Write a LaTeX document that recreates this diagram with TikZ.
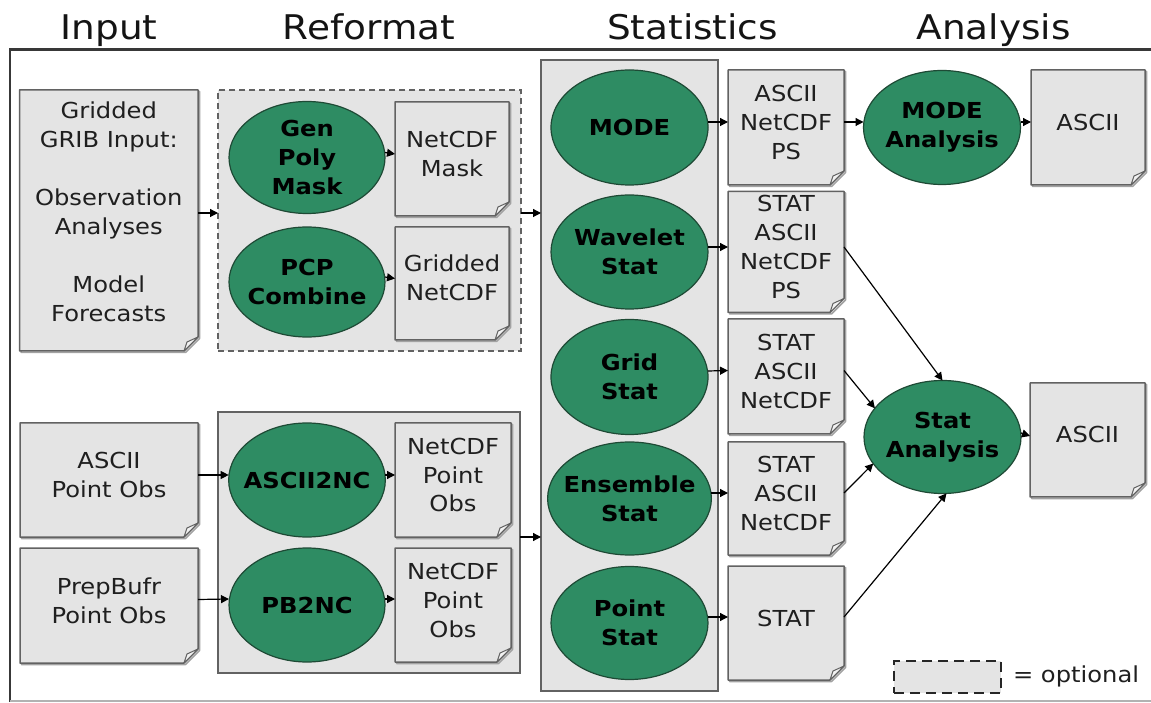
\documentclass[tikz,border=0pt]{standalone}
\usepackage{fontspec}
\setmainfont{DejaVu Sans}[FakeStretch=1.1]
\usetikzlibrary{arrows.meta,calc,shapes.geometric}
\pgfdeclarelayer{bg}
\pgfdeclarelayer{docs}
\pgfsetlayers{bg,docs,main}
\definecolor{boxfill}{HTML}{E4E4E4}
\definecolor{lineg}{HTML}{626262}
\definecolor{shad}{HTML}{A2A2A2}
\definecolor{procgreen}{RGB}{46,140,99}
\definecolor{procline}{HTML}{1E4A35}
\definecolor{foldfill}{HTML}{F2F2F2}
\newcommand\doctext[1]{\rule{0pt}{20pt}#1\rule[-14pt]{0pt}{0pt}}
\newcommand\docoutline[3]{([shift={(#2,#3)}]#1.north west) -- ([shift={(#2,#3)}]#1.north east) -- ([shift={(#2,#3+14)}]#1.south east) -- ([shift={(#2-14,#3)}]#1.south east) -- ([shift={(#2,#3)}]#1.south west) -- cycle}
\begin{document}
\begin{tikzpicture}[x=1pt,y=1pt,
  every node/.style={inner sep=0pt, outer sep=0pt},
  txt/.style={font=\fontsize{22}{29}\selectfont, align=center, text=black!88},
  doc/.style args={#1/#2}{txt, rectangle, minimum width=#1pt, minimum height=#2pt},
  proc/.style args={#1/#2}{ellipse, draw=procline, line width=1.2pt, fill=procgreen, inner sep=-8pt, minimum width=#1pt, minimum height=#2pt, font=\fontsize{22}{29}\selectfont\bfseries, align=center, text=black},
  cont/.style args={#1/#2}{rectangle, draw=lineg, line width=1.5pt, fill=boxfill, minimum width=#1pt, minimum height=#2pt},
  arr/.style={-{Triangle[length=8pt,width=8pt]}, line width=1.2pt, black},
  hdr/.style={font=\fontsize{34}{40}\selectfont, anchor=base, text=black!92}
]
\useasboundingbox (0,0) rectangle (1151,702);
\begin{pgfonlayer}{bg}
\fill[white] (0,0) rectangle (1151,702);
\end{pgfonlayer}

% frame
\coordinate (ftl) at (10,652.5);
\coordinate (ftr) at (1151,652.5);
\coordinate (fbl) at (10,0);
\coordinate (fbl2) at (10,1);
\coordinate (fbr2) at (1151,1);
\draw[line width=2.2pt, black!78] (ftr) -- (ftl) -- (fbl);
\draw[line width=1.5pt, black!30] (fbl2) -- (fbr2);

% headers
\node[hdr] (hin) at (109,662.5) {Input};
\node[hdr] (href) at (369,662.5) {Reformat};
\node[hdr] (hsta) at (692.5,662.5) {Statistics};
\node[hdr] (hana) at (993.5,662.5) {Analysis};

% containers
\begin{pgfonlayer}{bg}
\node[cont=303/261, dash pattern=on 6pt off 4pt] (rdash) at (369.5,481.5) {};
\node[cont=302/261] (rsol) at (369,159.5) {};
\node[cont=177/631] (stats) at (629.5,326.5) {};
\end{pgfonlayer}

% documents
\node[doc=178.5/261] (gin) at (108.75,481.5) {\rule{0pt}{20pt}Gridded\\GRIB Input:\\[29pt]Observation\\Analyses\\[29pt]Model\\Forecasts\rule[-20pt]{0pt}{0pt}};
\node[doc=114/114] (mask) at (452,543) {\doctext{NetCDF\\Mask}};
\node[doc=114/113] (gnc) at (452,418.5) {\doctext{Gridded\\NetCDF}};
\node[doc=178/114] (aobs) at (109,222) {\doctext{ASCII\\Point Obs}};
\node[doc=178/115] (pobs) at (109,96.5) {\doctext{PrepBufr\\Point Obs}};
\node[doc=116/114] (anc) at (453,222) {\doctext{NetCDF\\Point\\Obs}};
\node[doc=116/114] (pnc) at (453,97) {\doctext{NetCDF\\Point\\Obs}};
\node[doc=116/115] (mout) at (786,574.5) {\doctext{ASCII\\NetCDF\\PS}};
\node[doc=116/114] (wout) at (786,450) {\doctext{STAT\\ASCII\\NetCDF\\PS}};
\node[doc=116/115] (gout) at (786,325.5) {\doctext{STAT\\ASCII\\NetCDF}};
\node[doc=116/113] (eout) at (786,203.5) {\doctext{STAT\\ASCII\\NetCDF}};
\node[doc=116/114] (pout) at (786,79) {\doctext{STAT}};
\node[doc=114/115] (mascii) at (1088,574.5) {\doctext{ASCII}};
\node[doc=115/114] (sascii) at (1087.5,262) {\doctext{ASCII}};

\begin{pgfonlayer}{docs}
\foreach \n in {gin,mask,gnc,aobs,pobs,anc,pnc,mout,wout,gout,eout,pout,mascii,sascii}{
  \draw[shad, line width=1.5pt, line join=round] \docoutline{\n}{1.5}{-1.5};
  \filldraw[fill=boxfill, draw=lineg, line width=1.5pt, line join=round] \docoutline{\n}{0}{0};
  \filldraw[fill=foldfill, draw=lineg, line width=1pt, line join=round] ([yshift=14pt]\n.south east) -- ([xshift=-14pt]\n.south east) -- ([shift={(-11,9)}]\n.south east) -- cycle;
}
\end{pgfonlayer}

% processes
\node[proc=156/112] (gpm) at (307,544.5) {Gen\\Poly\\Mask};
\node[proc=156/110] (pcp) at (307,420) {PCP\\Combine};
\node[proc=156/114] (a2nc) at (307,222) {ASCII2NC};
\node[proc=156/114] (pb2nc) at (307,97) {PB2NC};
\node[proc=157/115] (mode) at (629.5,574.5) {MODE};
\node[proc=157/114] (wave) at (629.5,450) {Wavelet\\Stat};
\node[proc=157/115] (grid) at (629.5,325) {Grid\\Stat};
\node[proc=157/113] (ens) at (629.5,203.5) {Ensemble\\Stat};
\node[proc=157/113] (pointst) at (629.5,79) {Point\\Stat};
\node[proc=157/114] (modea) at (942,574.5) {MODE\\Analysis};
\node[proc=157/113] (stata) at (942.5,265) {Stat\\Analysis};

% connectors
\coordinate (r213) at (0,489);
\coordinate (r537) at (0,165);
\draw[arr] (gin.east |- r213) -- (rdash.west |- r213);
\draw[arr] (rdash.east |- r213) -- (stats.west |- r213);
\draw[arr] (rsol.east |- r537) -- (stats.west |- r537);
\draw[arr] ([yshift=5pt]gpm.east) -- ([yshift=5pt]mask.west);
\draw[arr] ([yshift=5pt]pcp.east) -- ([yshift=5pt]gnc.west);
\draw[arr] ([yshift=5pt]aobs.east) -- ([yshift=5pt]a2nc.west);
\draw[arr] ([yshift=6pt]pobs.east) -- ([yshift=6pt]pb2nc.west);
\draw[arr] ([yshift=5pt]a2nc.east) -- ([yshift=5pt]anc.west);
\draw[arr] ([yshift=6pt]pb2nc.east) -- ([yshift=6pt]pnc.west);
\draw[arr] ([yshift=5.5pt]mode.east) -- ([yshift=5.5pt]mout.west);
\draw[arr] ([yshift=5.5pt]mout.east) -- ([yshift=5.5pt]modea.west);
\draw[arr] ([yshift=5.5pt]modea.east) -- ([yshift=5.5pt]mascii.west);
\draw[arr] ([yshift=5pt]wave.east) -- ([yshift=5pt]wout.west);
\draw[arr] ([yshift=6pt]grid.east) -- ([yshift=6pt]gout.west);
\draw[arr] ([yshift=5.5pt]ens.east) -- ([yshift=5.5pt]eout.west);
\draw[arr] ([yshift=6pt]pointst.east) -- ([yshift=6pt]pout.west);
\draw[arr] ([yshift=4pt]stata.east) -- ([yshift=4pt]sascii.west);
\draw[arr] ([yshift=5pt]wout.east) -- (stata.north);
\draw[arr] ([yshift=6pt]gout.east) -- (stata.157);
\draw[arr] ([yshift=5.5pt]eout.east) -- (stata.201);
\draw[arr] ([yshift=6pt]pout.east) -- (stata.274);

% legend
\node[draw=black!85, line width=2.2pt, dash pattern=on 10pt off 6pt, fill=boxfill, minimum width=107pt, minimum height=32pt] (legbox) at (947.5,25) {};
\node[txt, anchor=base west] (legtxt) at (1013,20) {= optional};
\end{tikzpicture}
\end{document}
